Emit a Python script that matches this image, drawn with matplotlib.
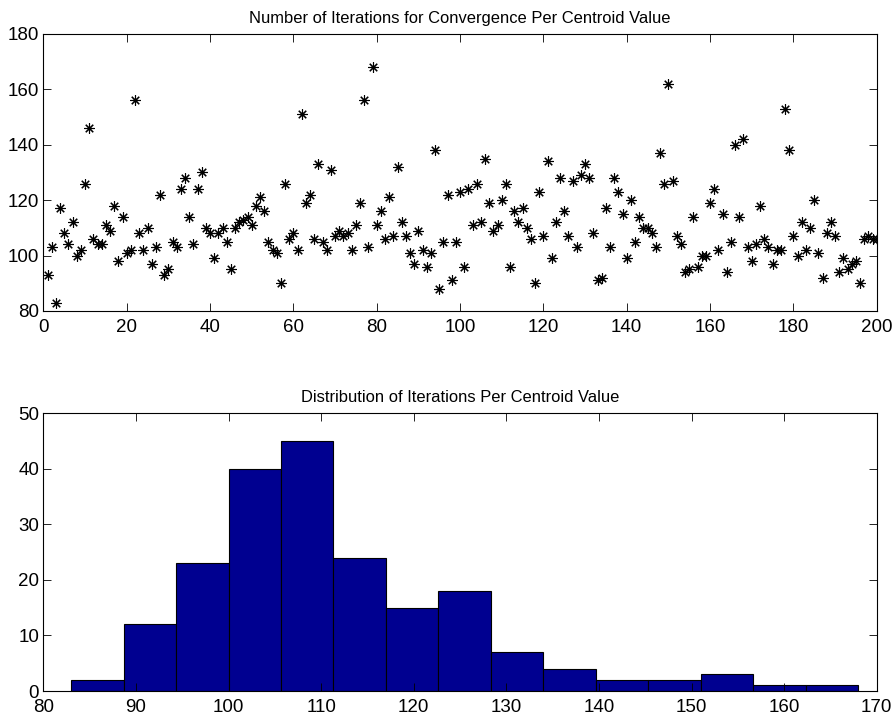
import numpy as np
import matplotlib
matplotlib.use('Agg')
import matplotlib.pyplot as plt

plt.rcParams['font.family'] = ['Liberation Sans', 'DejaVu Sans']

# iterations needed for each centroid value
centroid = list(range(1, 201))
iterations = [
    93, 103, 83, 117, 108, 104, 112, 100, 102, 126,
    146, 106, 104, 104, 111, 109, 118, 98, 114, 101,
    102, 156, 108, 102, 110, 97, 103, 122, 93, 95,
    105, 103, 124, 128, 114, 104, 124, 130, 110, 108,
    99, 108, 110, 105, 95, 110, 112, 113, 114, 111,
    118, 121, 116, 105, 102, 101, 90, 126, 106, 108,
    102, 151, 119, 122, 106, 133, 105, 102, 131, 107,
    109, 107, 108, 102, 111, 119, 156, 103, 168, 111,
    116, 106, 121, 107, 132, 112, 107, 101, 97, 109,
    102, 96, 101, 138, 88, 105, 122, 91, 105, 123,
    96, 124, 111, 126, 112, 135, 119, 109, 111, 120,
    126, 96, 116, 112, 117, 110, 106, 90, 123, 107,
    134, 99, 112, 128, 116, 107, 127, 103, 129, 133,
    128, 108, 91, 92, 117, 103, 128, 123, 115, 99,
    120, 105, 114, 110, 110, 108, 103, 137, 126, 162,
    127, 107, 104, 94, 95, 114, 96, 100, 100, 119,
    124, 102, 115, 94, 105, 140, 114, 142, 103, 98,
    104, 118, 106, 103, 97, 102, 102, 153, 138, 107,
    100, 112, 102, 110, 120, 101, 92, 108, 112, 107,
    94, 99, 95, 97, 98, 90, 106, 107, 106, 106,
]

# histogram (15 bins between min and max)
bin_edges = np.linspace(83, 168, 16)
bin_counts = [2, 12, 23, 40, 45, 24, 15, 18, 7, 4, 2, 2, 3, 1, 1]

fig = plt.figure(figsize=(8.92, 7.21), dpi=100)

ax1 = fig.add_axes([0.0486, 0.5687, 0.9343, 0.3842])
ax1.plot(centroid, iterations, linestyle='none', marker=(8, 2, 0),
         markersize=7.5, markeredgewidth=0.8, color='black')
ax1.set_xlim(0, 200)
ax1.set_ylim(80, 180)
ax1.set_xticks(range(0, 201, 20))
ax1.set_yticks(range(80, 181, 20))
ax1.set_title('Number of Iterations for Convergence Per Centroid Value',
              fontsize=11.9, pad=8)

ax2 = fig.add_axes([0.0486, 0.0416, 0.9343, 0.3851])
ax2.bar(bin_edges[:-1], bin_counts, width=np.diff(bin_edges), align='edge',
        color='#000090', edgecolor='black', linewidth=0.8)
ax2.set_xlim(80, 170)
ax2.set_ylim(0, 50)
ax2.set_xticks(range(80, 171, 10))
ax2.set_yticks(range(0, 51, 10))
ax2.set_title('Distribution of Iterations Per Centroid Value',
              fontsize=11.9, pad=8)

for ax in (ax1, ax2):
    ax.tick_params(direction='in', length=5.5, width=0.6, labelsize=13.5,
                   top=True, right=True)
    ax.tick_params(axis='x', pad=5.5)
    ax.tick_params(axis='y', pad=3)
    for s in ax.spines.values():
        s.set_linewidth(0.8)

fig.savefig('out.png', dpi=100)
